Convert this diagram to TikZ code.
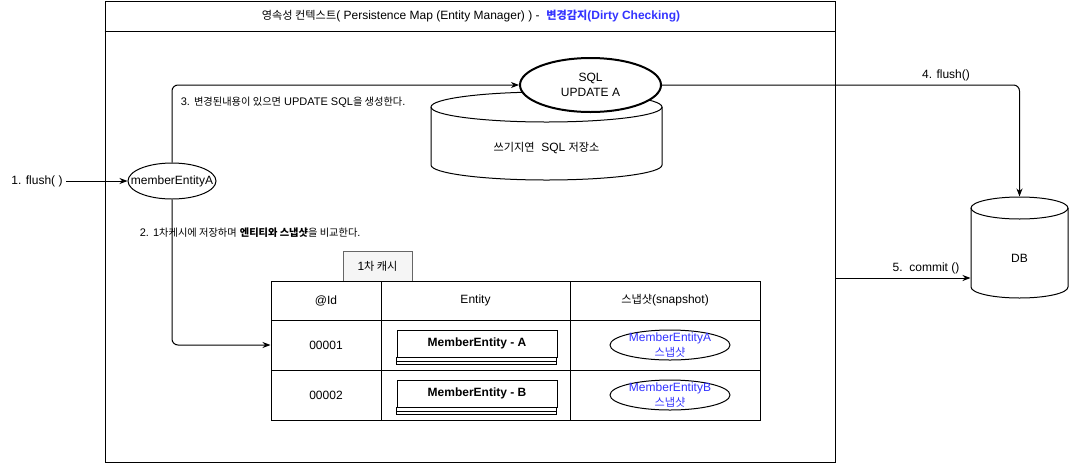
\documentclass[tikz,border=0pt]{standalone}
\usepackage{fontspec}
\setmainfont{Liberation Sans}
\newfontfamily\krfont{Noto Sans CJK KR}[Scale=0.93]
\newcommand{\ko}[1]{{\krfont #1}}
\usetikzlibrary{arrows.meta,shapes.geometric}
\definecolor{dcblue}{RGB}{51,51,255}
\definecolor{tabgray}{RGB}{245,245,245}
\definecolor{tabline}{RGB}{102,102,102}

\begin{document}
\begin{tikzpicture}[x=1pt,y=-1pt,line width=1pt,
  font=\fontsize{12}{15}\selectfont,
  flow/.style={-{Stealth[length=8pt,width=6pt,inset=2.5pt]},rounded corners=6pt},
  edgelbl/.style={anchor=west,font=\fontsize{11}{13}\selectfont},
  cell/.style={draw,minimum height=50pt,inner sep=0pt},
  entbox/.style={draw,minimum width=160pt,minimum height=27pt,inner sep=0pt,font=\fontsize{12}{15}\selectfont\bfseries},
  snapbox/.style={draw,ellipse,minimum width=120pt,minimum height=30pt,inner sep=0pt},
  snaptext/.style={text=dcblue,align=center,inner sep=0pt}]
\useasboundingbox (0,0) rectangle (1071,464);

% persistence context
\node[draw,minimum width=730pt,minimum height=461pt,inner sep=0pt] (ctx) at (470,231.5) {};
\draw (ctx.west |- 0,31) -- (ctx.east |- 0,31);
\node (title) at (471,16) {\ko{영속성 컨텍스트}( Persistence Map (Entity Manager) ) -\ \ \textcolor{dcblue}{\bfseries\ko{변경감지}(Dirty Checking)}};

% write-behind store
\draw (546.5,107) ellipse [x radius=115.5pt,y radius=15pt];
\draw (431,107) -- (431,165) arc [start angle=180,end angle=360,x radius=115.5pt,y radius=15pt] -- (662,107);
\node (store) at (546.5,148) {\ko{쓰기지연}\ \ SQL \ko{저장소}};
\node[draw,ellipse,fill=white,line width=2pt,minimum width=141pt,minimum height=54pt,align=center] (sqlNode) at (590.5,85) {SQL\\UPDATE A};

% entity
\node (flushIn) at (37,181) {1. flush( )};
\node[draw,ellipse,minimum width=88pt,minimum height=36pt,label=center:memberEntityA] (member) at (172,181) {};
\draw[flow] (flushIn.east) -- (member.west);

% first-level cache
\node[draw=tabline,fill=tabgray,minimum width=69pt,minimum height=30pt,inner sep=0pt] (tab) at (377.5,266) {1\ko{차 캐시}};
\node[cell,minimum width=110pt,minimum height=39pt] (hId) at (326,300.5) {@Id};
\node[cell,minimum width=189pt,minimum height=39pt] (hEnt) at (475.5,300.5) {Entity};
\node[cell,minimum width=190pt,minimum height=39pt] (hSnap) at (665,300.5) {\ko{스냅샷}(snapshot)};
\foreach \y/\id/\nm [count=\i] in {345/00001/A,395/00002/B}{
  \node[cell,minimum width=110pt] (id\i) at (326,\y) {\id};
  \node[cell,minimum width=189pt] (ent\i) at (475.5,\y) {};
  \node[cell,minimum width=190pt] (snap\i) at (665,\y) {};
  \node[entbox] (cls\i) at (477,\y-1.5) {MemberEntity - \nm};
  \draw (cls\i.south west) rectangle ++(160,7);
  \draw (cls\i.south west) ++(0,3.5) -- ++(160,0);
  \node[snapbox,label={[snaptext]center:MemberEntity\nm\\\ko{스냅샷}}] (snapEll\i) at (670,\y) {};
}

% database
\draw (1019.5,208) ellipse [x radius=48.5pt,y radius=11pt];
\draw (971,208) -- (971,287) arc [start angle=180,end angle=360,x radius=48.5pt,y radius=11pt] -- (1068,208);
\node[minimum width=97pt,minimum height=122pt,inner sep=0pt] (db) at (1019.5,258) {DB};

% flows
\draw[flow] (member.north) |- (sqlNode.west);
\node[edgelbl] (lblUpdate) at (177,102) {3. \ko{변경된내용이 있으면} UPDATE SQL\ko{을 생성한다}.};
\draw[flow] (member.south) |- (id1.west);
\node[edgelbl] (lblCompare) at (136,233) {2. 1\ko{차케시에 저장하며} {\bfseries\ko{엔티티와 스냅샷}}\ko{을 비교한다}.};
\draw[flow] (sqlNode.east) -| (db.north);
\node (lblFlush) at (946,75) {4. flush()};
\coordinate (commitFrom) at (ctx.east |- 0,278);
\draw[flow] (commitFrom) -- (commitFrom -| db.west);
\node (lblCommit) at (926,268) {5.\ \ commit ()};
\end{tikzpicture}
\end{document}
